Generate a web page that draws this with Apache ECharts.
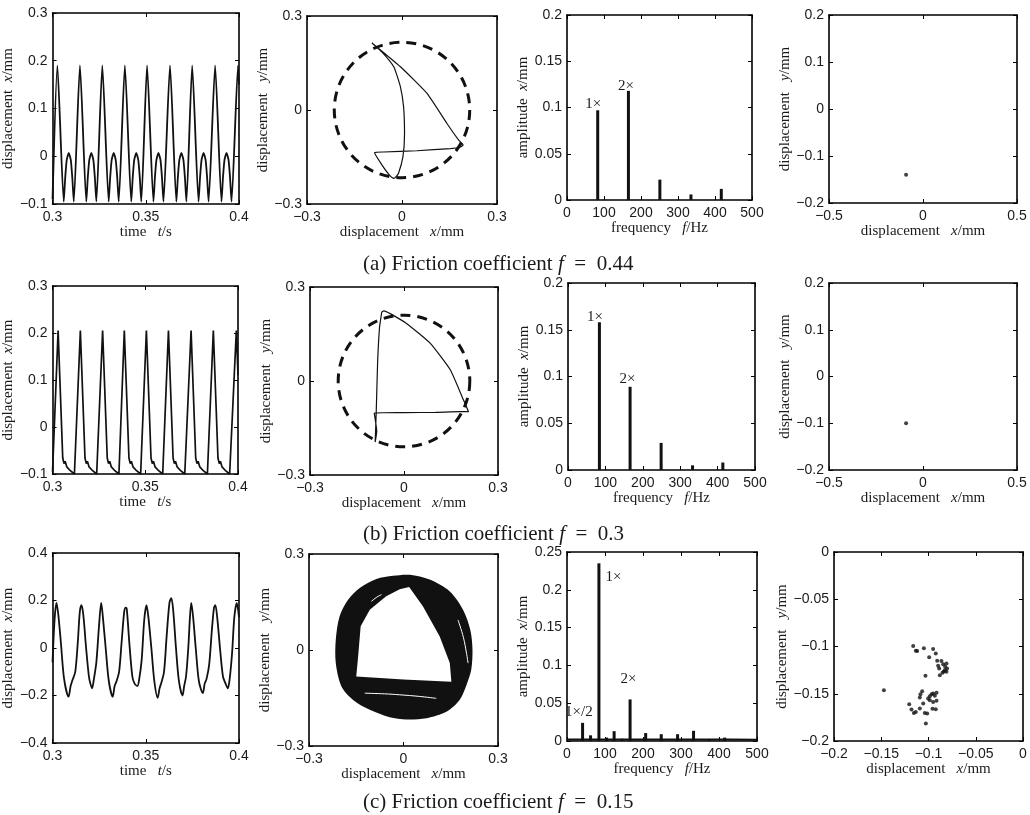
<!DOCTYPE html>
<html>
<head>
<meta charset="utf-8">
<script src="https://cdn.jsdelivr.net/npm/echarts@6/dist/echarts.min.js"></script>
<style>html,body{margin:0;background:#fff}#chart{width:1030px;height:815px}</style>
</head>
<body>
<div id="chart"></div>
<script>
// time series [t, x]
const a1Wave = [
  [0.3000,-0.090],
  [0.3026,0.190],[0.3060,-0.095],[0.3068,-0.045],[0.3076,-0.008],[0.3087,0.007],[0.3098,-0.008],[0.3106,-0.045],[0.3114,-0.095],
  [0.3147,0.190],[0.3181,-0.095],[0.3189,-0.045],[0.3197,-0.008],[0.3208,0.007],[0.3219,-0.008],[0.3227,-0.045],[0.3235,-0.095],
  [0.3267,0.190],[0.3301,-0.095],[0.3309,-0.045],[0.3317,-0.008],[0.3328,0.007],[0.3339,-0.008],[0.3347,-0.045],[0.3355,-0.095],
  [0.3388,0.190],[0.3422,-0.095],[0.3430,-0.045],[0.3438,-0.008],[0.3449,0.007],[0.3460,-0.008],[0.3468,-0.045],[0.3476,-0.095],
  [0.3507,0.190],[0.3541,-0.095],[0.3549,-0.045],[0.3557,-0.008],[0.3568,0.007],[0.3579,-0.008],[0.3587,-0.045],[0.3595,-0.095],
  [0.3630,0.190],[0.3664,-0.095],[0.3672,-0.045],[0.3680,-0.008],[0.3691,0.007],[0.3702,-0.008],[0.3710,-0.045],[0.3718,-0.095],
  [0.3749,0.190],[0.3783,-0.095],[0.3791,-0.045],[0.3799,-0.008],[0.3810,0.007],[0.3821,-0.008],[0.3829,-0.045],[0.3837,-0.095],
  [0.3872,0.190],[0.3906,-0.095],[0.3914,-0.045],[0.3922,-0.008],[0.3933,0.007],[0.3944,-0.008],[0.3952,-0.045],[0.3960,-0.095],
  [0.3995,0.190],[0.4000,0.150]
];
const b1Wave = [
  [0.3000,-0.095],
  [0.3030,0.205],[0.3055,-0.066],[0.3062,-0.078],[0.3068,-0.073],[0.3077,-0.085],[0.3085,-0.082],[0.3096,-0.093],[0.3104,-0.090],[0.3118,-0.100],
  [0.3150,0.205],[0.3175,-0.066],[0.3182,-0.078],[0.3188,-0.073],[0.3197,-0.085],[0.3205,-0.082],[0.3216,-0.093],[0.3224,-0.090],[0.3238,-0.100],
  [0.3270,0.205],[0.3295,-0.066],[0.3302,-0.078],[0.3308,-0.073],[0.3317,-0.085],[0.3325,-0.082],[0.3336,-0.093],[0.3344,-0.090],[0.3358,-0.100],
  [0.3387,0.205],[0.3412,-0.066],[0.3419,-0.078],[0.3425,-0.073],[0.3434,-0.085],[0.3442,-0.082],[0.3453,-0.093],[0.3461,-0.090],[0.3475,-0.100],
  [0.3506,0.205],[0.3531,-0.066],[0.3538,-0.078],[0.3544,-0.073],[0.3553,-0.085],[0.3561,-0.082],[0.3572,-0.093],[0.3580,-0.090],[0.3594,-0.100],
  [0.3625,0.205],[0.3650,-0.066],[0.3657,-0.078],[0.3663,-0.073],[0.3672,-0.085],[0.3680,-0.082],[0.3691,-0.093],[0.3699,-0.090],[0.3713,-0.100],
  [0.3747,0.205],[0.3772,-0.066],[0.3779,-0.078],[0.3785,-0.073],[0.3794,-0.085],[0.3802,-0.082],[0.3813,-0.093],[0.3821,-0.090],[0.3835,-0.100],
  [0.3867,0.205],[0.3892,-0.066],[0.3899,-0.078],[0.3905,-0.073],[0.3914,-0.085],[0.3922,-0.082],[0.3933,-0.093],[0.3941,-0.090],[0.3955,-0.100],
  [0.3991,0.205],[0.4000,0.110]
];
const c1Wave = [
  [0.3000,-0.060],[0.3011,0.120],[0.3021,0.190],[0.3031,0.140],[0.3045,0.020],[0.3062,-0.130],[0.3086,-0.205],[0.3097,-0.160],
  [0.3107,-0.135],[0.3122,-0.100],[0.3136,0.030],[0.3146,0.150],[0.3155,0.180],[0.3165,0.140],[0.3180,0.000],[0.3195,-0.120],
  [0.3203,-0.150],[0.3212,-0.170],[0.3222,-0.130],[0.3235,-0.060],[0.3249,0.090],[0.3261,0.190],[0.3270,0.130],[0.3285,0.000],
  [0.3302,-0.140],[0.3323,-0.205],[0.3333,-0.160],[0.3343,-0.140],[0.3357,-0.100],[0.3370,0.020],[0.3384,0.150],[0.3392,0.170],
  [0.3398,0.165],[0.3412,0.020],[0.3428,-0.120],[0.3440,-0.150],[0.3455,-0.160],[0.3465,-0.130],[0.3478,-0.050],[0.3492,0.120],
  [0.3504,0.180],[0.3514,0.130],[0.3530,0.000],[0.3546,-0.140],[0.3564,-0.210],[0.3574,-0.170],[0.3584,-0.145],[0.3598,-0.100],
  [0.3612,0.050],[0.3627,0.190],[0.3637,0.210],[0.3647,0.160],[0.3662,0.000],[0.3678,-0.140],[0.3697,-0.200],[0.3706,-0.160],
  [0.3716,-0.120],[0.3728,0.000],[0.3737,0.130],[0.3744,0.190],[0.3754,0.130],[0.3768,0.000],[0.3785,-0.140],[0.3806,-0.190],
  [0.3816,-0.150],[0.3826,-0.130],[0.3840,-0.070],[0.3855,0.080],[0.3866,0.170],[0.3873,0.180],[0.3883,0.130],[0.3898,0.000],
  [0.3914,-0.120],[0.3928,-0.150],[0.3940,-0.170],[0.3950,-0.130],[0.3963,-0.020],[0.3975,0.130],[0.3988,0.190],[0.4000,0.130]
];

// orbits [x, y]
const a2Orbit = [
  [-0.095,0.214],[-0.005,0.138],[0.079,0.053],[0.142,-0.043],[0.179,-0.096],[0.193,-0.112],[0.185,-0.118],[0.153,-0.123],
  [0.047,-0.130],[-0.058,-0.134],[-0.087,-0.136],[-0.063,-0.176],[-0.037,-0.211],[-0.026,-0.218],[-0.020,-0.214],[-0.011,-0.202],
  [0.003,-0.149],[0.008,-0.075],[0.005,0.010],[-0.005,0.074],[-0.026,0.138],[-0.063,0.185],[-0.095,0.214]
];
const b2Orbit = [
  [-0.071,0.220],[-0.078,0.172],[-0.084,0.066],[-0.087,-0.040],[-0.089,-0.110],[-0.092,-0.195],[-0.087,-0.160],[-0.095,-0.102],
  [0.000,-0.101],[0.100,-0.100],[0.180,-0.098],[0.206,-0.098],[0.190,-0.061],[0.148,0.035],[0.084,0.120],[0.009,0.183],
  [-0.044,0.215],[-0.064,0.224],[-0.071,0.220]
];
const clearance = [0.215, 0.21];
// c: outer and inner edge of the orbit band, plus light streaks
const c2Outer = [
  [-0.033,0.232],[0.020,0.235],[0.083,0.220],[0.147,0.183],[0.189,0.126],[0.212,0.063],[0.219,0.001],[0.215,-0.062],
  [0.200,-0.109],[0.178,-0.156],[0.136,-0.193],[0.073,-0.213],[0.009,-0.217],[-0.044,-0.210],[-0.107,-0.187],[-0.160,-0.156],
  [-0.197,-0.114],[-0.215,-0.041],[-0.215,0.032],[-0.203,0.105],[-0.176,0.157],[-0.139,0.194],[-0.086,0.222]
];
const c2Inner = [
  [0.018,0.197],[0.062,0.136],[0.115,0.042],[0.147,-0.041],[0.152,-0.099],[0.000,-0.092],[-0.150,-0.083],[-0.144,-0.020],
  [-0.136,0.074],[-0.107,0.126],[-0.055,0.168],[-0.012,0.190]
];
const c2Streaks = [
  [[-0.123,-0.135],[-0.060,-0.137],[-0.012,-0.140],[0.050,-0.145],[0.104,-0.151]],
  [[-0.102,0.152],[-0.085,0.165],[-0.070,0.173]],
  [[0.173,0.094],[0.190,0.040],[0.200,-0.010],[0.205,-0.041]]
];

// spectra
const a3Freq = [83, 166, 251, 335, 417];
const a3Amp = [0.097, 0.118, 0.022, 0.006, 0.012];
const b3Freq = [84, 166, 249, 333, 414];
const b3Amp = [0.158, 0.089, 0.029, 0.005, 0.008];
const c3Freq = [41, 62, 84, 104, 124, 145, 166, 207, 248, 291, 333, 374, 415];
const c3Amp = [0.024, 0.0075, 0.235, 0.0045, 0.013, 0.003, 0.055, 0.0105, 0.009, 0.009, 0.0135, 0.0025, 0.0045];
const c3Floor = [[0, 0.002], [430, 0.002], [500, 0.0015]];

// Poincare sections
const a4Pts = [[-0.09, -0.14]];
const b4Pts = [[-0.09, -0.10]];
const c4Pts = [
  [-0.1472,-0.1462],
  [-0.1162,-0.0995],[-0.1134,-0.1044],[-0.1120,-0.1048],[-0.1049,-0.1019],[-0.0951,-0.1027],[-0.0923,-0.1073],[-0.0993,-0.1115],
  [-0.0908,-0.1150],[-0.0863,-0.1154],[-0.0845,-0.1189],[-0.0824,-0.1214],[-0.0810,-0.1179],[-0.0827,-0.1250],[-0.0852,-0.1278],
  [-0.0880,-0.1303],[-0.0887,-0.1232],[-0.0838,-0.1264],[-0.0803,-0.1232],[-0.0810,-0.1267],[-0.0898,-0.1204],[-0.1032,-0.1310],
  [-0.1067,-0.1473],[-0.1085,-0.1504],[-0.1092,-0.1540],[-0.1204,-0.1611],[-0.1180,-0.1667],[-0.1155,-0.1703],[-0.1134,-0.1692],
  [-0.1092,-0.1657],[-0.1056,-0.1604],[-0.1004,-0.1550],[-0.0986,-0.1526],[-0.0968,-0.1504],[-0.0951,-0.1497],[-0.0933,-0.1522],
  [-0.0915,-0.1490],[-0.0986,-0.1568],[-0.0951,-0.1586],[-0.0915,-0.1575],[-0.0958,-0.1660],[-0.0923,-0.1664],[-0.1014,-0.1710],
  [-0.1028,-0.1816],[-0.1039,-0.1703]
];

const captions = ['(a) Friction coefficient ', '(b) Friction coefficient ', '(c) Friction coefficient '];
const captionValues = ['0.44', '0.3', '0.15'];

const serif = '"Liberation Serif", "Times New Roman", serif';
const sans = '"Liberation Sans", Arial, sans-serif';
const ink = '#1a1a1a';

const chart = echarts.init(document.getElementById('chart'));

const grids = [];
const xAxes = [];
const yAxes = [];
const series = [];

function fmt(v) {
  return String(Math.round(v * 10000) / 10000).replace('-', '\u2212');
}

function addPanel(box, xr, yr, xName, yName, xGap, yGap) {
  const gi = grids.length;
  grids.push({ left: box[0], top: box[1], width: box[2], height: box[3] });
  const axisLine = { show: true, onZero: false, lineStyle: { color: '#000', width: 1.6 } };
  const axisTick = { show: true, inside: true, length: 4, lineStyle: { color: '#000', width: 1 } };
  const nameTextStyle = {
    fontFamily: serif, fontSize: 15, color: ink,
    rich: { i: { fontFamily: serif, fontSize: 15, fontStyle: 'italic', color: ink } }
  };
  const axisLabel = { fontFamily: sans, fontSize: 14, color: ink, formatter: fmt };
  xAxes.push({
    gridIndex: gi, type: 'value', min: xr[0], max: xr[1], interval: xr[2], position: 'bottom',
    axisLine, axisTick, splitLine: { show: false }, axisLabel: { ...axisLabel, margin: 6 },
    name: xName, nameLocation: 'middle', nameGap: xGap, nameTextStyle
  });
  xAxes.push({
    gridIndex: gi, type: 'value', min: xr[0], max: xr[1], interval: xr[2], position: 'top',
    axisLine, axisTick, splitLine: { show: false }, axisLabel: { show: false }
  });
  yAxes.push({
    gridIndex: gi, type: 'value', min: yr[0], max: yr[1], interval: yr[2], position: 'left',
    axisLine, axisTick, splitLine: { show: false }, axisLabel: { ...axisLabel, margin: 5 },
    name: yName, nameLocation: 'middle', nameRotate: 90, nameGap: yGap, nameTextStyle
  });
  yAxes.push({
    gridIndex: gi, type: 'value', min: yr[0], max: yr[1], interval: yr[2], position: 'right',
    axisLine, axisTick, splitLine: { show: false }, axisLabel: { show: false }
  });
  return 2 * gi;
}

function lineSeries(ax, data, width, smooth) {
  series.push({
    type: 'line', xAxisIndex: ax, yAxisIndex: ax, data, showSymbol: false, smooth: smooth || false,
    lineStyle: { color: '#111', width }, silent: true, animation: false
  });
}

function circleSeries(ax, r) {
  series.push({
    type: 'custom', xAxisIndex: ax, yAxisIndex: ax, data: [[0, 0]], silent: true, animation: false,
    renderItem: (params, api) => {
      const c = api.coord([0, 0]);
      const s = api.size([r, r]);
      return {
        type: 'circle', shape: { cx: c[0], cy: c[1], r: (s[0] + s[1]) / 2 },
        style: { fill: 'none', stroke: '#111', lineWidth: 3, lineDash: [10, 7] }
      };
    }
  });
}

function spectrum(ax, freq, amp, labels) {
  series.push({
    type: 'bar', xAxisIndex: ax, yAxisIndex: ax, barWidth: 3, silent: true, animation: false,
    itemStyle: { color: '#111' },
    data: freq.map((f, k) => {
      const item = { value: [f, amp[k]] };
      if (labels[k]) {
        item.label = {
          show: true, formatter: labels[k][0], position: labels[k][1],
          fontFamily: serif, fontSize: 15, color: ink
        };
      }
      return item;
    })
  });
}

function dots(ax, pts) {
  series.push({
    type: 'scatter', xAxisIndex: ax, yAxisIndex: ax, data: pts, symbolSize: 4, silent: true,
    animation: false, itemStyle: { color: '#111' }
  });
}

const tName = 'time   {i|t}/s';
const dxName = 'displacement   {i|x}/mm';
const dyName = 'displacement   {i|y}/mm';
const xdName = 'displacement  {i|x}/mm';
const fName = 'frequency   {i|f}/Hz';
const ampName = 'amplitude  {i|x}/mm';

// row (a)
const A1 = addPanel([49, 13, 190, 191], [0.3, 0.4, 0.05], [-0.1, 0.3, 0.1], tName, xdName, 18, 30);
const A2 = addPanel([307, 16, 190, 188], [-0.3, 0.3, 0.3], [-0.3, 0.3, 0.3], dxName, dyName, 18, 25);
const A3 = addPanel([567, 15, 185, 185], [0, 500, 100], [0, 0.2, 0.05], fName, ampName, 20, 27);
const A4 = addPanel([829, 15, 188, 188], [-0.5, 0.5, 0.5], [-0.2, 0.2, 0.1], dxName, dyName, 18, 29);
// row (b)
const B1 = addPanel([47, 286, 191, 188], [0.3, 0.4, 0.05], [-0.1, 0.3, 0.1], tName, xdName, 18, 25);
const B2 = addPanel([310, 287, 188, 188], [-0.3, 0.3, 0.3], [-0.3, 0.3, 0.3], dxName, dyName, 18, 27);
const B3 = addPanel([568, 283, 187, 187], [0, 500, 100], [0, 0.2, 0.05], fName, ampName, 20, 28);
const B4 = addPanel([829, 283, 188, 187], [-0.5, 0.5, 0.5], [-0.2, 0.2, 0.1], dxName, dyName, 18, 29);
// row (c)
const C1 = addPanel([50, 553, 189, 190], [0.3, 0.4, 0.05], [-0.4, 0.4, 0.2], tName, xdName, 18, 29);
const C2 = addPanel([309, 554, 189, 192], [-0.3, 0.3, 0.3], [-0.3, 0.3, 0.3], dxName, dyName, 18, 26);
const C3 = addPanel([567, 552, 190, 189], [0, 500, 100], [0, 0.25, 0.05], fName, ampName, 20, 27);
const C4 = addPanel([834, 552, 189, 189], [-0.2, 0, 0.05], [-0.2, 0, 0.05], dxName, dyName, 18, 34);

lineSeries(A1, a1Wave, 1.8, 0.2);
lineSeries(B1, b1Wave, 1.7, false);
lineSeries(C1, c1Wave, 1.8, 0.3);

circleSeries(A2, clearance[0]);
lineSeries(A2, a2Orbit, 1.2, 0.15);
circleSeries(B2, clearance[1]);
lineSeries(B2, b2Orbit, 1.2, 0.15);

series.push({
  type: 'custom', xAxisIndex: C2, yAxisIndex: C2, data: [[0, 0]], silent: true, animation: false,
  renderItem: (params, api) => ({
    type: 'group',
    children: [
      { type: 'polygon', shape: { points: c2Outer.map(p => api.coord(p)), smooth: 0.3 }, style: { fill: '#111' } },
      { type: 'polygon', shape: { points: c2Inner.map(p => api.coord(p)) }, style: { fill: '#fff' } }
    ].concat(c2Streaks.map(s => ({
      type: 'polyline', shape: { points: s.map(p => api.coord(p)), smooth: 0.4 },
      style: { fill: 'none', stroke: '#fff', lineWidth: 1 }
    })))
  })
});

spectrum(A3, a3Freq, a3Amp, [['1×', [-11, -14]], ['2×', [-9, -12]]]);
spectrum(B3, b3Freq, b3Amp, [['1×', [-11, -13]], ['2×', [-9, -15]]]);
lineSeries(C3, c3Floor, 2, false);
spectrum(C3, c3Freq, c3Amp, [['1×/2', [-16, -18]], null, ['1×', [8, 6]], null, null, null, ['2×', [-8, -28]]]);

dots(A4, a4Pts);
dots(B4, b4Pts);
dots(C4, c4Pts);

const captionTops = [249, 519, 787];
const title = captions.map((c, k) => ({
  text: '{t|' + c + '}{i|f}{t|\u2002=\u2002' + captionValues[k] + '}',
  left: 358, top: captionTops[k],
  textStyle: {
    fontWeight: 'normal',
    rich: {
      t: { fontFamily: serif, fontSize: 21, fontWeight: 'normal', color: ink },
      i: { fontFamily: serif, fontSize: 21, fontWeight: 'normal', fontStyle: 'italic', color: ink }
    }
  }
}));

chart.setOption({
  animation: false,
  backgroundColor: '#fff',
  title,
  grid: grids,
  xAxis: xAxes,
  yAxis: yAxes,
  series
});
</script>
</body>
</html>
